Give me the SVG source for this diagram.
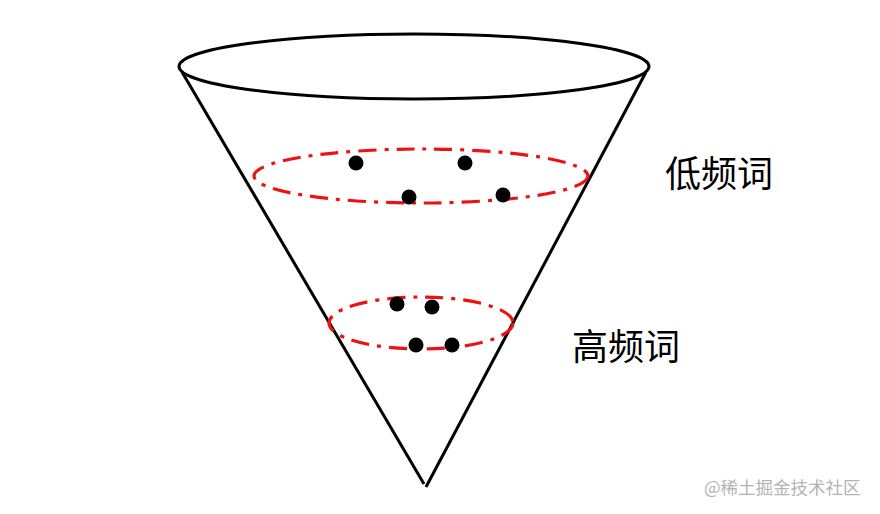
<svg xmlns="http://www.w3.org/2000/svg" width="880" height="514" viewBox="0 0 880 514">
<style>
.k{fill:none;stroke:#000;stroke-width:3}
.r{fill:none;stroke:#ee1111;stroke-width:3.2;stroke-dasharray:18 8 4 8}
.d{fill:#000}
.t{font-family:"Noto Sans CJK SC","Noto Sans CJK JP",serif;font-size:36px;fill:#000}
.w{font-family:"Noto Sans CJK SC",sans-serif;font-size:17.5px;fill:#b4b4b4}
</style>
<rect width="880" height="514" fill="#fff"/>
<g id="cone">
<line class="k" x1="182" y1="72" x2="424" y2="484"/>
<line class="k" x1="646" y1="72" x2="426" y2="487"/>
<ellipse class="k" cx="414" cy="66.5" rx="235" ry="32.5"/>
</g>
<g id="low-freq-ring">
<ellipse class="r" cx="421" cy="176" rx="167" ry="27"/>
<circle class="d" cx="356" cy="163" r="7.5"/>
<circle class="d" cx="465" cy="163" r="7.5"/>
<circle class="d" cx="409" cy="197" r="7.5"/>
<circle class="d" cx="503" cy="195" r="7.5"/>
</g>
<g id="high-freq-ring">
<ellipse class="r" cx="421" cy="323" rx="92" ry="26"/>
<circle class="d" cx="397" cy="304" r="7.5"/>
<circle class="d" cx="432" cy="307" r="7.5"/>
<circle class="d" cx="416" cy="345" r="7.5"/>
<circle class="d" cx="452" cy="345" r="7.5"/>
</g>
<g id="labels">
<text class="t" x="665" y="187">低频词</text>
<text class="t" x="572" y="360">高频词</text>
</g>
<text class="w" x="704" y="494">@稀土掘金技术社区</text>
</svg>
